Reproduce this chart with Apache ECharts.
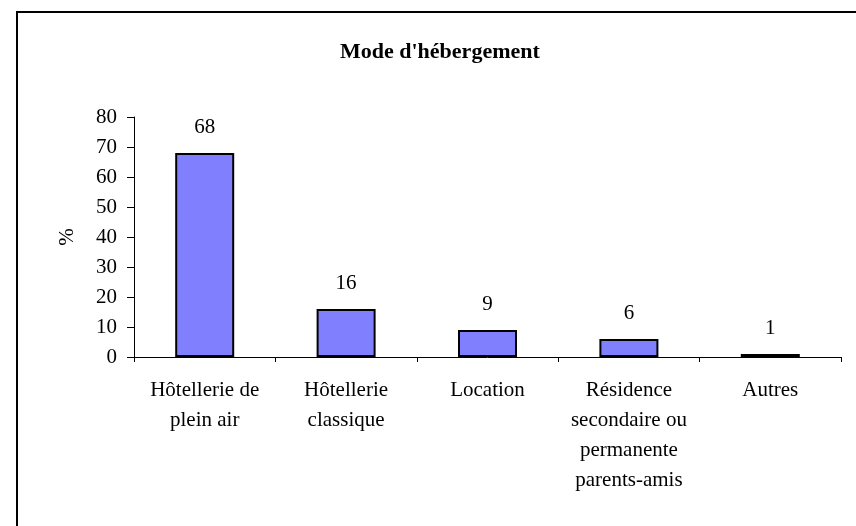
<!DOCTYPE html>
<html>
<head>
<meta charset="utf-8">
<script src="https://cdn.jsdelivr.net/npm/echarts@6/dist/echarts.min.js"></script>
<style>
  html, body { margin: 0; padding: 0; background: #fff; }
  #main { width: 856px; height: 526px; }
</style>
</head>
<body>
<div id="main"></div>
<script>
var titleText = "Mode d'hébergement";
var categories = ['Hôtellerie de\nplein air', 'Hôtellerie\nclassique', 'Location',
                  'Résidence\nsecondaire ou\npermanente\nparents-amis', 'Autres'];
var values = [68, 16, 9, 6, 1];
var yName = '%';

var serif = "'Liberation Serif', 'Times New Roman', serif";

// init the chart
var myChart = echarts.init(document.getElementById('main'));

var option = {
    backgroundColor: '#ffffff',
    animation: false,
    title: {
        text: titleText,
        left: 335,
        top: 36,
        textStyle: { fontFamily: serif, fontWeight: 'bold', fontSize: 22, color: '#000' }
    },
    graphic: [{
        type: 'rect',
        shape: { x: 17, y: 12, width: 900, height: 600 },
        style: { fill: 'none', stroke: '#000', lineWidth: 2 },
        silent: true
    }],
    grid: { left: 134, right: 15, top: 117, bottom: 169 },
    xAxis: {
        type: 'category',
        data: categories,
        axisLine: { lineStyle: { color: '#000', width: 1 } },
        axisTick: { show: true, length: 5, lineStyle: { color: '#000' } },
        axisLabel: {
            interval: 0,
            margin: 18,
            fontFamily: serif,
            fontSize: 21,
            lineHeight: 30,
            color: '#000'
        }
    },
    yAxis: {
        type: 'value',
        min: 0,
        max: 80,
        interval: 10,
        name: yName,
        nameLocation: 'middle',
        nameRotate: 90,
        nameGap: 56,
        nameTextStyle: { fontFamily: serif, fontSize: 21, color: '#000' },
        splitLine: { show: false },
        axisLine: { show: true, lineStyle: { color: '#000', width: 1 } },
        axisTick: { show: true, length: 7, lineStyle: { color: '#000' } },
        axisLabel: { margin: 17, fontFamily: serif, fontSize: 21, color: '#000' }
    },
    series: [{
        type: 'bar',
        data: values,
        barWidth: 59,
        itemStyle: { color: '#8080ff', borderColor: '#000', borderWidth: 2 },
        label: {
            show: true,
            position: 'top',
            distance: 15,
            fontFamily: serif,
            fontSize: 21,
            color: '#000'
        }
    }]
};

myChart.setOption(option);
</script>
</body>
</html>
